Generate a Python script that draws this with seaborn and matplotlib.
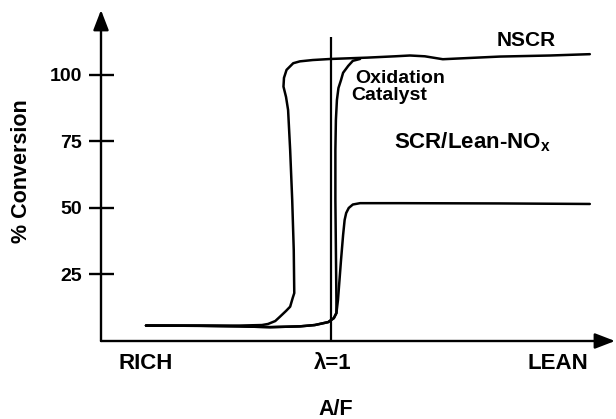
import matplotlib
matplotlib.use("Agg")
import matplotlib.pyplot as plt
import seaborn as sns

# A/F on an arbitrary 0-100 scale, conversion in %
nscr_x = [8.75, 19.3, 27.0, 31.3, 32.5, 33.9, 34.8, 36.0, 36.8, 37.3, 37.6, 37.5, 37.2, 36.8,
          36.4, 36.0, 35.5, 35.6, 36.1, 37.4, 38.7, 41.2, 44.7, 51.8, 57.2, 60.1, 63.0, 66.5,
          69.8, 77.6, 87.4, 95.1]
nscr_y = [5.8, 5.8, 5.8, 6.0, 6.4, 7.5, 9.1, 11.3, 12.9, 16.2, 18.0, 34.2, 53.0, 71.8,
          86.8, 91.7, 95.6, 98.9, 101.9, 104.4, 105.1, 105.6, 106.0, 106.5, 107.0, 107.3, 107.0, 105.9,
          106.2, 106.9, 107.3, 107.8]

oxi_x = [8.75, 19.3, 27.0, 32.9, 38.7, 41.6, 44.2, 45.3, 45.8, 45.8, 45.7, 45.6, 45.6, 45.7,
         45.9, 46.2, 46.7, 47.1, 48.1, 49.0, 50.4]
oxi_y = [5.8, 5.7, 5.5, 5.2, 5.5, 6.0, 7.1, 8.6, 10.5, 15.4, 34.2, 53.0, 71.8, 83.1,
         90.6, 95.1, 98.1, 100.8, 103.4, 105.3, 106.0]

scr_x = [8.75, 19.3, 27.0, 32.9, 38.7, 41.6, 44.2, 45.3, 45.8, 46.1, 46.4, 46.7, 47.1, 47.4,
         47.7, 48.2, 49.0, 50.4, 58.2, 77.6, 95.1]
scr_y = [5.8, 5.7, 5.5, 5.2, 5.5, 6.0, 7.1, 8.6, 10.5, 15.4, 22.9, 30.5, 39.8, 45.5,
         48.1, 50.0, 51.3, 51.8, 51.8, 51.7, 51.5]

lambda_one = 44.65
y_ticks = [25, 50, 75, 100]
x_ticks = [8.75, 45.1, 88.9]
x_labels = ["RICH", "λ=1", "LEAN"]

sns.set_theme(style="white")
plt.rcParams["font.family"] = ["Liberation Sans", "DejaVu Sans"]
plt.rcParams["mathtext.fontset"] = "custom"
plt.rcParams["mathtext.rm"] = "Liberation Sans:bold"
plt.rcParams["text.color"] = "black"
plt.rcParams["axes.labelcolor"] = "black"

fig = plt.figure(figsize=(6.16, 4.19), dpi=100)
ax = fig.add_axes([101 / 616, 78 / 419, 514 / 616, 331 / 419])

for xs, ys in [(nscr_x, nscr_y), (oxi_x, oxi_y), (scr_x, scr_y)]:
    sns.lineplot(x=xs, y=ys, sort=False, estimator=None, color="black", lw=1.8, ax=ax)

ax.vlines(lambda_one, 0, 114.3, color="black", lw=1.6)

ax.set_xlim(0, 100)
ax.set_ylim(0, 124.4)
for s in ax.spines.values():
    s.set_visible(False)

# axes drawn as arrows
arrow = dict(arrowstyle="-|>,head_length=1.22,head_width=0.47", lw=1.7, color="black",
             shrinkA=0, shrinkB=0, mutation_scale=10)
ax.annotate("", xy=(1, 0), xytext=(0, 0), xycoords="axes fraction", arrowprops=arrow)
ax.annotate("", xy=(0, 1), xytext=(0, 0), xycoords="axes fraction", arrowprops=arrow)

ax.set_yticks(y_ticks)
ax.set_yticklabels([str(v) for v in y_ticks], fontweight="bold")
ax.tick_params(axis="y", left=True, direction="inout", length=18, width=1.7, pad=4.7,
               labelsize=14, color="black", labelcolor="black")
ax.set_xticks(x_ticks)
ax.set_xticklabels(x_labels, fontweight="bold")
ax.tick_params(axis="x", bottom=True, length=0, pad=8.5, labelsize=16, labelcolor="black")

ax.set_xlabel("A/F", fontsize=15.5, fontweight="bold")
ax.xaxis.set_label_coords(0.457, -0.175)
ax.set_ylabel("% Conversion", fontsize=15.5, fontweight="bold")
ax.yaxis.set_label_coords(-0.134, 0.512)

ax.text(82.7, 113, "NSCR", ha="center", va="center", fontsize=15, fontweight="bold")
ax.text(49.4, 97.1, "Oxidation", ha="left", va="baseline", fontsize=14, fontweight="bold")
ax.text(48.6, 90.6, "Catalyst", ha="left", va="baseline", fontsize=14, fontweight="bold")
ax.text(57.0, 72.4, "SCR/Lean-NO$_\\mathrm{x}$", ha="left", va="baseline", fontsize=16,
        fontweight="bold")

fig.savefig("out.png", dpi=100)
